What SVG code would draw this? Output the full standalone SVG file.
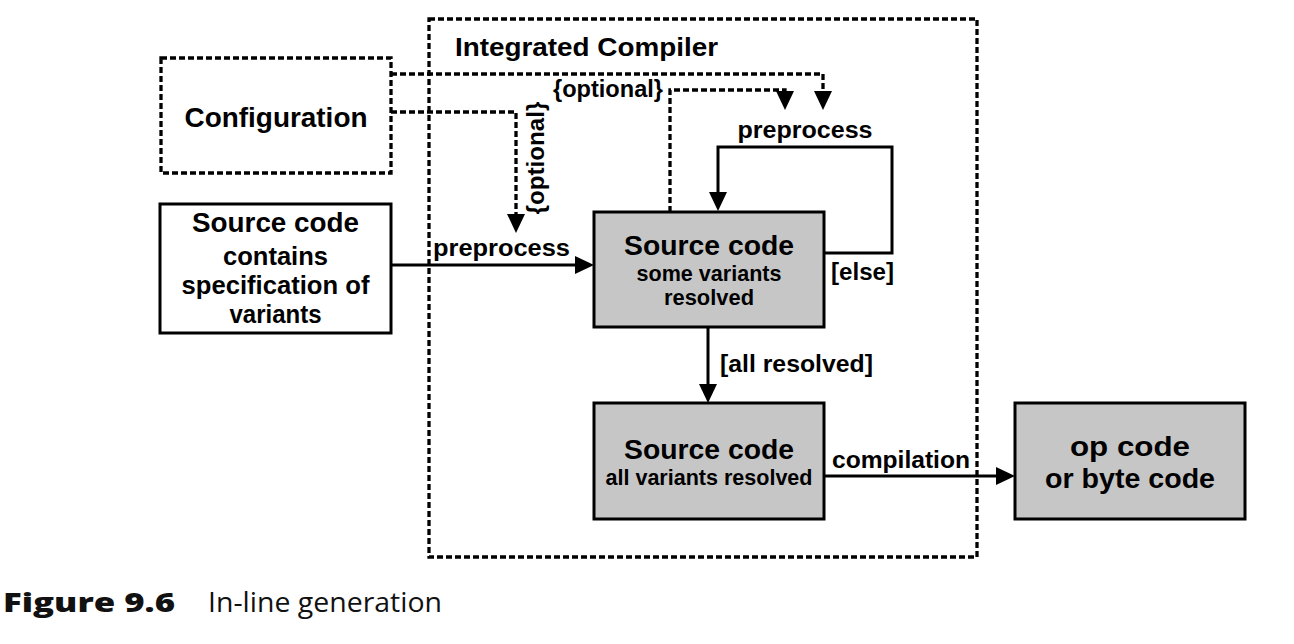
<svg xmlns="http://www.w3.org/2000/svg" width="1294" height="644" viewBox="0 0 1294 644">
<style>
  text { font-family: "Liberation Sans", Arial, sans-serif; font-weight: bold; fill: #000; }
  .big { font-size: 28px; }
  .mid { font-size: 26px; }
  .sm { font-size: 22px; }
  .lbl { font-size: 23px; }
  .box { fill: #fff; stroke: #000; stroke-width: 3; }
  .gray { fill: #c6c6c6; stroke: #000; stroke-width: 3; }
  .dbox { fill: none; stroke: #000; stroke-width: 3.3; stroke-dasharray: 6 3; }
  .solid { fill: none; stroke: #000; stroke-width: 3; }
  .dash { fill: none; stroke: #000; stroke-width: 3.3; stroke-dasharray: 6 3; }
  .cap { font-family: "Open Sans", "Noto Sans", sans-serif; font-size: 27px; fill: #111; }
</style>
<defs>
  <marker id="ah" markerUnits="userSpaceOnUse" markerWidth="20" markerHeight="18" refX="8" refY="9" orient="auto">
    <path d="M0,0 L19,9 L0,18 z" fill="#000"/>
  </marker>
</defs>
<rect width="1294" height="644" fill="#fff"/>

<g id="compiler">
  <rect class="dbox" x="429" y="19" width="548" height="538"/>
  <text class="mid" x="455" y="56" textLength="263" lengthAdjust="spacingAndGlyphs">Integrated Compiler</text>
</g>

<g id="configuration">
  <rect class="dbox" x="161" y="58" width="230" height="115"/>
  <text class="big" x="276" y="127" text-anchor="middle" textLength="183" lengthAdjust="spacingAndGlyphs">Configuration</text>
</g>

<g id="source-input">
  <rect class="box" x="160" y="204" width="231" height="129"/>
  <text class="big" x="275.5" y="232" text-anchor="middle" textLength="167" lengthAdjust="spacingAndGlyphs">Source code</text>
  <text class="mid" x="275.5" y="265" text-anchor="middle" textLength="105" lengthAdjust="spacingAndGlyphs">contains</text>
  <text class="mid" x="275.5" y="294" text-anchor="middle" textLength="188" lengthAdjust="spacingAndGlyphs">specification of</text>
  <text class="mid" x="275.5" y="323" text-anchor="middle" textLength="92" lengthAdjust="spacingAndGlyphs">variants</text>
</g>

<g id="source-some">
  <rect class="gray" x="594" y="212" width="230" height="115"/>
  <text class="big" x="709" y="255" text-anchor="middle" textLength="170" lengthAdjust="spacingAndGlyphs">Source code</text>
  <text class="sm" x="709" y="281" text-anchor="middle" textLength="145" lengthAdjust="spacingAndGlyphs">some variants</text>
  <text class="sm" x="709" y="305" text-anchor="middle" textLength="90" lengthAdjust="spacingAndGlyphs">resolved</text>
</g>

<g id="source-all">
  <rect class="gray" x="594" y="403" width="230" height="116"/>
  <text class="big" x="709" y="459" text-anchor="middle" textLength="170" lengthAdjust="spacingAndGlyphs">Source code</text>
  <text class="sm" x="709" y="485" text-anchor="middle" textLength="207" lengthAdjust="spacingAndGlyphs">all variants resolved</text>
</g>

<g id="opcode">
  <rect class="gray" x="1015" y="403" width="230" height="116"/>
  <text class="big" x="1130" y="456" text-anchor="middle" textLength="120" lengthAdjust="spacingAndGlyphs">op code</text>
  <text class="big" x="1130" y="488" text-anchor="middle" textLength="170" lengthAdjust="spacingAndGlyphs">or byte code</text>
</g>

<g id="connectors">
  <path class="dash" d="M391,74 H823 V99" marker-end="url(#ah)"/>
  <path class="dash" d="M391,112 H516 V222" marker-end="url(#ah)"/>
  <path class="dash" d="M670,212 V90 H785 V99" marker-end="url(#ah)"/>
  <path class="solid" d="M391,265 H583" marker-end="url(#ah)"/>
  <path class="solid" d="M824,253 H892 V147 H718 V200" marker-end="url(#ah)"/>
  <path class="solid" d="M708,327 V392" marker-end="url(#ah)"/>
  <path class="solid" d="M824,476 H1004" marker-end="url(#ah)"/>
  <text class="lbl" x="608" y="97" text-anchor="middle" textLength="110" lengthAdjust="spacingAndGlyphs">{optional}</text>
  <text class="lbl" transform="translate(544,158) rotate(-90)" x="0" y="0" text-anchor="middle" textLength="113" lengthAdjust="spacingAndGlyphs">{optional}</text>
  <text class="lbl" x="805" y="138" text-anchor="middle" textLength="135" lengthAdjust="spacingAndGlyphs">preprocess</text>
  <text class="lbl" x="831" y="280" textLength="63" lengthAdjust="spacingAndGlyphs">[else]</text>
  <text class="lbl" x="433" y="256" textLength="137" lengthAdjust="spacingAndGlyphs">preprocess</text>
  <text class="lbl" x="720" y="372" textLength="153" lengthAdjust="spacingAndGlyphs">[all resolved]</text>
  <text class="lbl" x="832" y="468" textLength="138" lengthAdjust="spacingAndGlyphs">compilation</text>
</g>

<g id="caption">
  <text class="cap" x="3" y="612" style="font-weight:800" textLength="172" lengthAdjust="spacingAndGlyphs">Figure 9.6</text>
  <text class="cap" x="208" y="612" style="font-weight:normal" textLength="234" lengthAdjust="spacingAndGlyphs">In-line generation</text>
</g>
</svg>
